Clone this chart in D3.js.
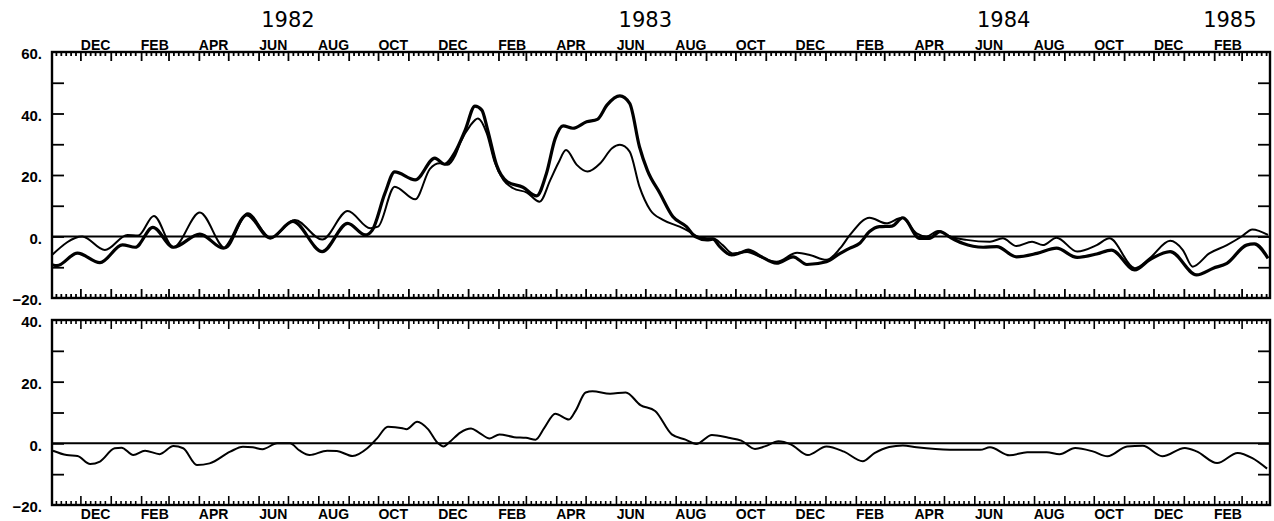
<!DOCTYPE html>
<html>
<head>
<meta charset="utf-8">
<script src="https://cdn.jsdelivr.net/npm/d3@7"></script>
<style>
  body { margin: 0; background: #fff; }
  svg { display: block; }
</style>
</head>
<body>
<svg id="svgChart" width="1274" height="521"></svg>
<script>
// Series as [days since 2 Nov 1981, value]
let thickSeries = [
  [0,-9.2],[5,-9.5],[26,-5.4],[49,-8.5],[72,-2.7],[85,-3.5],[103,3.0],[124,-3.5],
  [151,0.8],[175,-3.8],[199,7.0],[223,-0.5],[246,4.9],[276,-4.9],[302,4.3],[320,0.5],
  [327,2.0],[340,14],[350,21],[371,18.4],[391,25.5],[401,23.5],[412,27.6],[422,34.6],
  [432,42.4],[439,41.1],[445,34.6],[454,23.3],[465,17.8],[481,16.0],[495,13.2],[505,20.5],
  [514,31.9],[522,36.0],[532,35.2],[546,37.3],[557,38.1],[567,42.8],[580,45.7],[590,43.3],
  [600,29.2],[608,21.6],[621,14.0],[634,6.5],[648,3.2],[657,0],[669,-1.1],[675,-0.9],
  [682,-3.3],[694,-6.0],[703,-5.3],[711,-4.4],[723,-6.3],[740,-8.7],[757,-6.6],[771,-9.1],
  [791,-8.2],[805,-5.5],[815,-3.8],[825,-2.2],[835,1.6],[845,3.2],[858,3.4],[869,6.1],
  [886,-0.6],[896,-0.6],[907,1.6],[917,-0.2],[930,-2.2],[951,-3.5],[965,-3.3],[985,-6.6],
  [1006,-5.5],[1026,-3.8],[1047,-6.8],[1067,-5.7],[1082,-4.4],[1106,-10.9],[1121,-7.6],
  [1142,-4.9],[1169,-12.5],[1186,-10.3],[1200,-8.7],[1220,-2.8],[1228,-2.4],[1242,-7.1]
];
let thinSeries = [
  [0,-6.0],[31,0],[54,-4.4],[77,0.5],[88,0.3],[104,6.7],[124,-3.5],[151,7.8],
  [177,-3.8],[200,7.6],[223,-0.5],[248,5.4],[276,-1.0],[302,8.3],[325,2.7],[333,3.2],
  [350,16.2],[371,12.1],[386,22.0],[396,23.8],[404,23.3],[412,26.5],[417,30.5],[427,36.0],
  [435,38.4],[444,33.6],[452,24.3],[461,18.4],[471,15.7],[485,14.3],[498,11.3],[509,18.4],
  [517,23.8],[525,28.1],[536,23.3],[547,21.1],[560,23.8],[572,28.7],[580,29.8],[590,27.6],
  [600,16.2],[611,8.6],[624,5.4],[641,3.2],[651,1.6],[659,0],[669,-0.6],[675,-0.6],
  [685,-2.8],[695,-5.5],[710,-5.0],[723,-6.6],[740,-8.2],[761,-5.3],[774,-6.0],[791,-7.6],
  [805,-3.8],[815,0.5],[835,6.1],[852,4.3],[868,6.1],[883,1.0],[893,0],[905,1.8],
  [917,0],[934,-1.1],[958,-1.7],[971,-0.6],[985,-3.1],[1001,-1.7],[1012,-2.8],[1026,-0.4],
  [1047,-4.9],[1067,-2.8],[1080,-0.6],[1106,-10.3],[1121,-7.1],[1142,-1.4],[1155,-4.4],
  [1165,-9.8],[1182,-5.5],[1200,-2.8],[1215,0],[1226,2.3],[1242,0.5]
];
let lowerSeries = [
  [1,-2.4],[15,-3.8],[26,-4.1],[39,-6.7],[49,-5.9],[64,-1.6],[71,-1.4],[83,-3.8],
  [95,-2.4],[110,-3.5],[124,-0.9],[134,-1.6],[148,-7.0],[161,-6.5],[182,-2.7],[195,-1.1],
  [205,-1.3],[215,-1.9],[230,0],[243,0],[253,-2.4],[263,-3.8],[281,-2.4],[291,-2.5],
  [307,-4.1],[322,-1.6],[332,1.6],[343,5.4],[358,4.9],[362,4.6],[373,7.0],[384,4.6],
  [394,0.1],[400,-1.0],[406,0.4],[417,3.5],[428,4.8],[436,3.5],[447,1.6],[457,2.9],
  [472,2.0],[484,1.8],[494,1.2],[503,5.1],[514,9.6],[528,7.7],[535,10.7],[545,16.5],
  [552,16.9],[570,16.1],[586,16.5],[601,12.4],[616,10.5],[633,2.9],[647,1.2],[658,-0.2],
  [674,2.7],[691,1.8],[704,0.9],[718,-1.8],[728,-1.0],[742,0.7],[755,-0.4],[772,-3.8],
  [791,-1.0],[809,-2.7],[828,-5.8],[840,-3.2],[855,-1.2],[869,-0.7],[883,-1.3],[917,-2.1],
  [948,-2.1],[958,-1.3],[978,-3.9],[996,-2.9],[1016,-2.9],[1029,-3.5],[1045,-1.5],[1063,-2.6],
  [1078,-4.2],[1098,-1.0],[1114,-0.8],[1134,-4.2],[1157,-1.5],[1169,-2.6],[1190,-6.4],
  [1211,-3.1],[1226,-4.8],[1241,-8.2]
];

// Axis labels
let yearLabels = ["1982", "1983", "1984", "1985"];
let yearDates = ["1982-07-01", "1983-07-01", "1984-07-01", "1985-02-17"];
let topTicks = [-20, -10, 0, 10, 20, 30, 40, 50, 60];
let topLabels = [-20, 0, 20, 40, 60];
let lowTicks = [-20, -10, 0, 10, 20, 30, 40];
let lowLabels = [-20, 0, 20, 40];


/*** Setup ***/

let startDate = new Date(1981, 10, 2);
let endDate = new Date(1985, 2, 30);
let svg = d3.select("#svgChart");
let font = "'Liberation Sans', Arial, sans-serif";

let x = d3.scaleTime().domain([startDate, endDate]).range([52, 1270]);
let yTop = d3.scaleLinear().domain([-20, 60]).range([298, 52]);
let yLow = d3.scaleLinear().domain([-20, 40]).range([505, 320]);

// Month boundaries, pentad ticks and the every-other-month labels
let months = d3.timeMonth.range(d3.timeMonth.ceil(startDate), endDate);
let pentads = d3.timeDay.range(startDate, endDate)
  .filter(d => [6, 11, 16, 21, 26].includes(d.getDate()));
let labelMonths = d3.timeMonth.range(d3.timeMonth.floor(startDate), endDate)
  .filter(d => d.getMonth() % 2 === 1)
  .map(d => new Date(+d + (d3.timeMonth.offset(d, 1) - d) / 2));
let fmtMonth = d => d3.timeFormat("%b")(d).toUpperCase();
let fmtVal = d => d3.format("")(d) + ".";

function dayDate(n) {
  return d3.timeDay.offset(startDate, n);
}

// Draw one time axis with ticks pointing inwards
function timeAxis(yPos, dir) {
  let g = svg.append("g").attr("transform", `translate(0, ${yPos})`);
  let make = dir === "down" ? d3.axisTop : d3.axisBottom;
  g.append("g").call(make(x).tickValues(pentads).tickSize(-4).tickFormat(""));
  g.append("g").call(make(x).tickValues(months).tickSize(-9).tickFormat(""));
  g.selectAll(".domain").remove();
  g.selectAll(".tick line").attr("stroke", "#000").attr("stroke-width", 1.6);
  return g;
}

// Draw the value axes on both sides
function valueAxes(y, ticks, labels) {
  let l = svg.append("g").attr("transform", "translate(52, 0)")
    .call(d3.axisLeft(y).tickValues(ticks.slice(1, -1)).tickSize(-12).tickFormat(""));
  let r = svg.append("g").attr("transform", "translate(1270, 0)")
    .call(d3.axisRight(y).tickValues(ticks.slice(1, -1)).tickSize(-12).tickFormat(""));
  let t = svg.append("g").attr("transform", "translate(52, 2)")
    .call(d3.axisLeft(y).tickValues(labels).tickSize(0).tickPadding(10).tickFormat(fmtVal));
  [l, r, t].forEach(g => g.select(".domain").remove());
  svg.selectAll(".tick line").attr("stroke", "#000").attr("stroke-width", 1.8);
  t.selectAll("text")
    .attr("font-family", font)
    .attr("font-weight", "bold")
    .attr("font-size", 15)
    .attr("fill", "#000");
}

// Draw one panel frame, zero line and series
function panel(y, ticks, labels, series) {
  let [y0, y1] = y.range();
  valueAxes(y, ticks, labels);
  timeAxis(y1, "down");
  timeAxis(y0, "up");
  svg.append("line")
    .attr("x1", 52).attr("x2", 1270)
    .attr("y1", y(0)).attr("y2", y(0))
    .attr("stroke", "#000").attr("stroke-width", 2);
  let line = d3.line()
    .x(d => x(dayDate(d[0])))
    .y(d => y(d[1]))
    .curve(d3.curveMonotoneX);
  series.forEach(s => {
    svg.append("path")
      .attr("d", line(s.data))
      .attr("fill", "none")
      .attr("stroke", "#000")
      .attr("stroke-width", s.w)
      .attr("stroke-linejoin", "round");
  });
  svg.append("rect")
    .attr("x", 52).attr("y", y1)
    .attr("width", 1270 - 52).attr("height", y0 - y1)
    .attr("fill", "none").attr("stroke", "#000").attr("stroke-width", 2.4);
}


/*** Operations ***/

panel(yTop, topTicks, topLabels, [
  {data: thinSeries, w: 2},
  {data: thickSeries, w: 3.2}
]);
panel(yLow, lowTicks, lowLabels, [
  {data: lowerSeries, w: 2}
]);

// Month labels above the top panel and below the lower one
[[50, labelMonths], [519, labelMonths]].forEach(([yPos, list]) => {
  svg.append("g")
    .selectAll("text")
    .data(list)
    .join("text")
      .attr("x", d => x(d))
      .attr("y", yPos)
      .attr("text-anchor", "middle")
      .attr("font-family", font)
      .attr("font-weight", "bold")
      .attr("font-size", 14)
      .text(fmtMonth);
});

// Year labels
svg.append("g")
  .selectAll("text")
  .data(yearLabels)
  .join("text")
    .attr("x", (d, i) => x(d3.timeParse("%Y-%m-%d")(yearDates[i])))
    .attr("y", 27)
    .attr("text-anchor", "middle")
    .attr("font-family", "'DejaVu Sans', sans-serif")
    .attr("font-size", 21)
    .text(d => d);
</script>
</body>
</html>
